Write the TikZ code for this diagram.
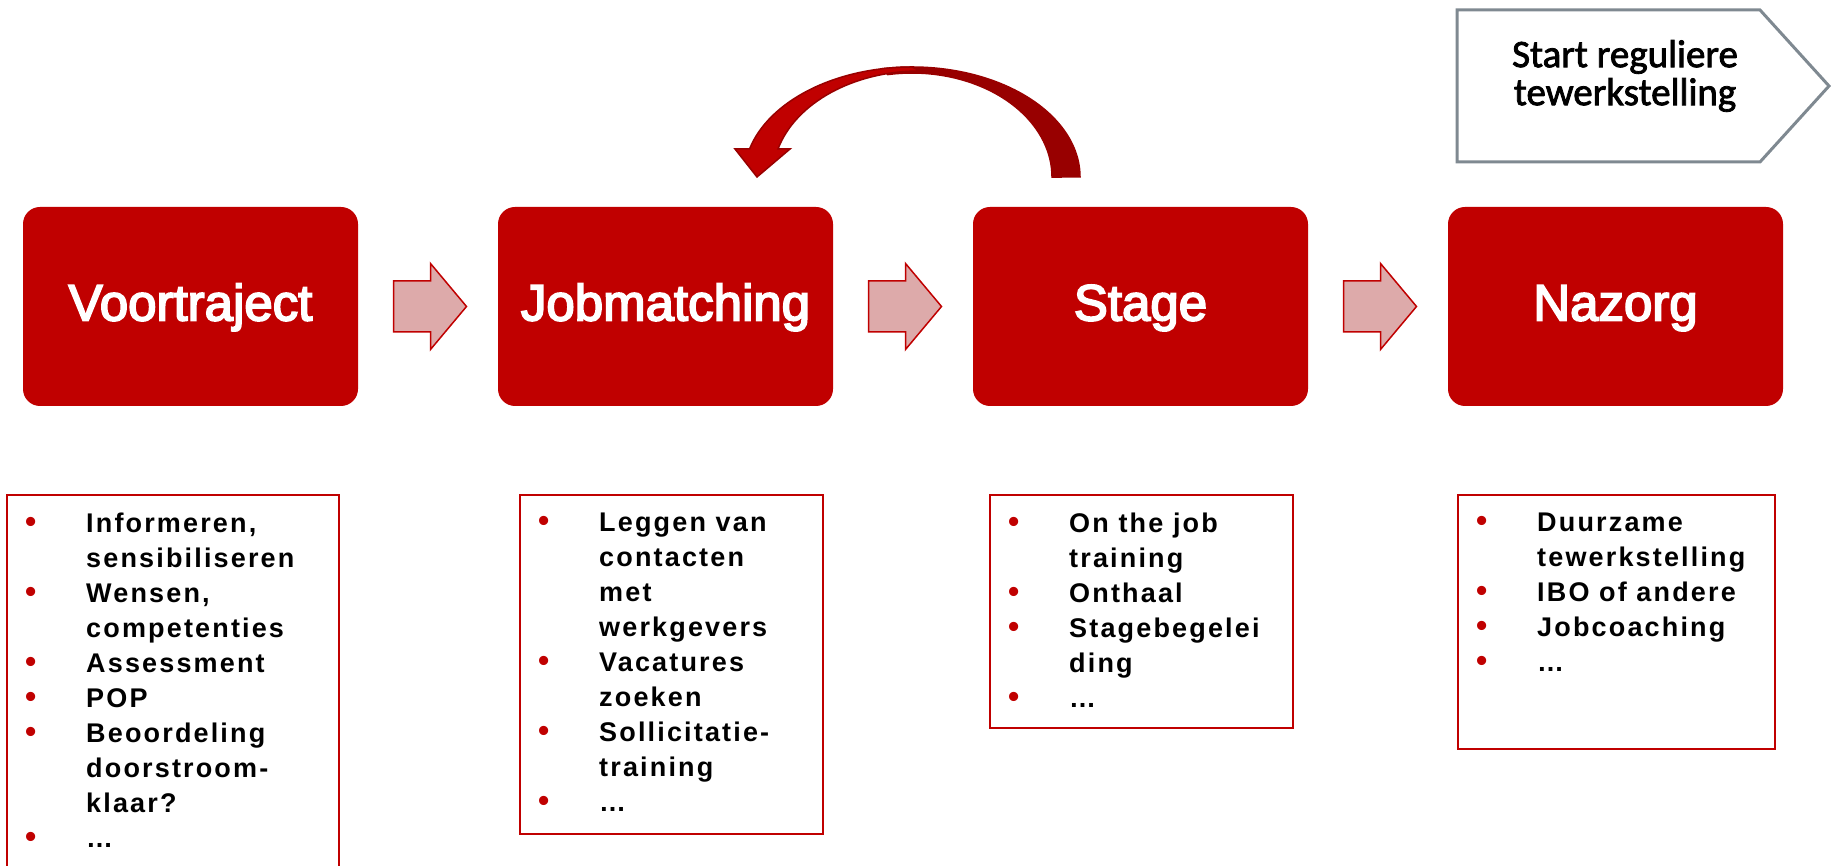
\documentclass[tikz,border=0pt]{standalone}
\usepackage{fontspec}
\setmainfont{Liberation Sans}
\newfontfamily\phasefont[FakeBold=3.5]{Liberation Sans}
\newfontfamily\listfont[LetterSpace=8]{Liberation Sans}
\newfontfamily\startfont[FakeBold=2]{Carlito}
\usetikzlibrary{calc}
\newcommand{\lstbul}{\makebox[61pt][l]{\textcolor{mainred}{\fontsize{32}{35}\selectfont\textbullet}}}
\newcommand{\lstind}{\hspace*{61pt}}

\begin{document}
\begin{tikzpicture}[x=1pt,y=1pt]
    \definecolor{mainred}{RGB}{192,0,0}
    \definecolor{darkred}{RGB}{152,0,0}
    \definecolor{pinkfill}{RGB}{221,170,170}
    \definecolor{startgray}{RGB}{127,137,145}

    \tikzstyle{phase}=[rectangle,rounded corners=17pt,fill=mainred,text=white,minimum width=335pt,minimum height=199pt,font=\phasefont\fontsize{51}{60}\selectfont,text height=38pt,text depth=10pt]  % rode fasebalk
    \tikzstyle{listbox}=[rectangle,draw=mainred,line width=2pt,anchor=north west,inner sep=0pt]  % kader rond opsomming
    \tikzstyle{listtext}=[anchor=north west,inner sep=0pt,align=left,font=\listfont\bfseries\fontsize{27}{35}\selectfont]
    \tikzstyle{blockarrow}=[draw=mainred,line width=1.5pt,fill=pinkfill]

    \useasboundingbox (0,0) rectangle (1831,866);

    % fasen
    \node[phase](voor) at (190.5,559.5){Voortraject};
    \node[phase,right of=voor,node distance=475pt](job){Jobmatching};
    \node[phase,right of=job,node distance=475pt](stage){Stage};
    \node[phase,right of=stage,node distance=475pt](nazorg){Nazorg};

    % blokpijlen tussen de fasen
    \draw[blockarrow] ($(voor.east)!0.5!(job.west)$) ++(-34.5,25.5) -- ++(37,0) -- ++(0,17.5) -- ++(36,-43) -- ++(-36,-43) -- ++(0,17.5) -- ++(-37,0) -- cycle;
    \draw[blockarrow] ($(job.east)!0.5!(stage.west)$) ++(-34.5,25.5) -- ++(37,0) -- ++(0,17.5) -- ++(36,-43) -- ++(-36,-43) -- ++(0,17.5) -- ++(-37,0) -- cycle;
    \draw[blockarrow] ($(stage.east)!0.5!(nazorg.west)$) ++(-34.5,25.5) -- ++(37,0) -- ++(0,17.5) -- ++(36,-43) -- ++(-36,-43) -- ++(0,17.5) -- ++(-37,0) -- cycle;

    % gebogen pijl terug van stage naar jobmatching
    \filldraw[fill=darkred,draw=darkred,line width=1.5pt] (1080,689) arc[start angle=0,end angle=100,x radius=168,y radius=110] -- (887.7,791.4) arc[start angle=100,end angle=0,x radius=140,y radius=104] -- cycle;
    \filldraw[fill=mainred,draw=darkred,line width=1.5pt] (912,799) arc[start angle=90,end angle=165.25,x radius=168,y radius=110] -- (735,717) -- (757,689) -- (790,717) -- (778,717) arc[start angle=164.7,end angle=90,x radius=147.2,y radius=106] -- cycle;

    % start reguliere tewerkstelling
    \draw[startgray,line width=3pt] (1457,856) -- (1760,856) -- (1829,780) -- (1760,704) -- (1457,704) -- cycle;
    \node[font=\startfont\fontsize{39}{38}\selectfont,align=center](start) at (1625,790){Start reguliere\\tewerkstelling};

    % opsommingen
    \node[listbox,minimum width=332pt,minimum height=400pt](voorlist) at (6,372){};
    \node[listbox,minimum width=303pt,minimum height=339pt](joblist) at (519,372){};
    \node[listbox,minimum width=303pt,minimum height=233pt](stagelist) at (989,372){};
    \node[listbox,minimum width=317pt,minimum height=254pt](nazorglist) at (1457,372){};

    \node[listtext](voortxt) at ([shift={(19,-19)}]voorlist.north west){\lstbul Informeren,\\\lstind sensibiliseren\\\lstbul Wensen,\\\lstind competenties\\\lstbul Assessment\\\lstbul POP\\\lstbul Beoordeling\\\lstind doorstroom-\\\lstind klaar?\\\lstbul …};
    \node[listtext](jobtxt) at ([shift={(19,-19)}]joblist.north west){\lstbul Leggen van\\\lstind contacten\\\lstind met\\\lstind werkgevers\\\lstbul Vacatures\\\lstind zoeken\\\lstbul Sollicitatie-\\\lstind training\\\lstbul …};
    \node[listtext](stagetxt) at ([shift={(19,-19)}]stagelist.north west){\lstbul On the job\\\lstind training\\\lstbul Onthaal\\\lstbul Stagebegelei\\\lstind ding\\\lstbul …};
    \node[listtext](nazorgtxt) at ([shift={(19,-19)}]nazorglist.north west){\lstbul Duurzame\\\lstind tewerkstelling\\\lstbul IBO of andere\\\lstbul Jobcoaching\\\lstbul …};
\end{tikzpicture}
\end{document}
